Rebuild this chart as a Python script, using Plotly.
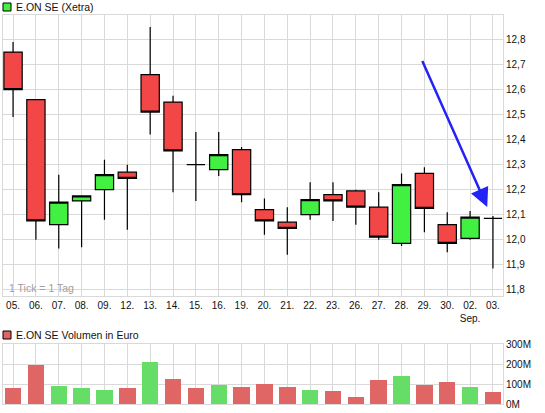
import plotly.graph_objects as go
from plotly.subplots import make_subplots

# trading days (Aug -> Sep)
days = ['05.', '06.', '07.', '08.', '09.', '12.', '13.', '14.', '15.', '16.', '19.',
        '20.', '21.', '22.', '23.', '26.', '27.', '28.', '29.', '30.', '02.', '03.']
day_labels = days[:20] + ['02.<br>Sep.', '03.']

open_ = [12.75, 12.56, 12.06, 12.155, 12.20, 12.27, 12.66, 12.55, 12.30, 12.28, 12.36,
         12.12, 12.07, 12.10, 12.18, 12.195, 12.13, 11.985, 12.265, 12.06, 12.005, 12.085]
high = [12.79, 12.56, 12.26, 12.175, 12.32, 12.30, 12.85, 12.575, 12.43, 12.43, 12.37,
        12.165, 12.13, 12.23, 12.23, 12.20, 12.19, 12.265, 12.29, 12.11, 12.115, 12.095]
low = [12.49, 12.00, 11.965, 11.97, 12.08, 12.04, 12.42, 12.19, 12.155, 12.255, 12.15,
       12.02, 11.94, 12.08, 12.075, 12.06, 12.00, 11.975, 12.03, 11.95, 12.00, 11.885]
close = [12.60, 12.075, 12.15, 12.175, 12.26, 12.245, 12.51, 12.355, 12.30, 12.34, 12.18,
         12.075, 12.045, 12.16, 12.155, 12.13, 12.01, 12.22, 12.125, 11.985, 12.09, 12.085]

# volume in million euro
volume = [80, 195, 90, 80, 70, 80, 210, 125, 80, 97, 85,
          100, 85, 70, 65, 35, 120, 140, 95, 110, 85, 60]
vol_up = [False, False, True, True, True, False, True, False, False, True, False,
          False, False, True, False, False, False, True, False, False, True, False]

RED = '#F34646'
GREEN = '#42F042'
VRED = '#E06666'
VGREEN = '#66DD66'
GRID = '#D9D9D9'
FONT = 'Liberation Sans, Arial, sans-serif'

W, H = 545, 413
ML, MR, MT, MB = 3, 42, 15, 9
PH = H - MT - MB


def py(pixel_y):
    # pixel row -> paper coordinate
    return (H - MB - pixel_y) / PH


def px(pixel_x):
    return (pixel_x - ML) / (W - ML - MR)


fig = make_subplots(rows=2, cols=1)

fig.add_trace(go.Candlestick(
    x=days, open=open_, high=high, low=low, close=close,
    increasing=dict(line=dict(color='black', width=1.2), fillcolor=GREEN),
    decreasing=dict(line=dict(color='black', width=1.2), fillcolor=RED),
    showlegend=False, hoverinfo='skip'), row=1, col=1)

fig.add_trace(go.Bar(
    x=days, y=volume, width=0.72,
    marker=dict(color=[VGREEN if u else VRED for u in vol_up], line=dict(width=0)),
    showlegend=False, hoverinfo='skip'), row=2, col=1)

axis_common = dict(showgrid=True, gridcolor=GRID, gridwidth=1, zeroline=False,
                   showline=True, linecolor=GRID, mirror=True, ticks='',
                   automargin=False)

fig.update_layout(
    width=W, height=H,
    margin=dict(l=ML, r=MR, t=MT, b=MB, pad=0),
    paper_bgcolor='white', plot_bgcolor='white',
    separators=',.',
    boxgap=0.2, boxgroupgap=0,
    font=dict(family=FONT, size=10, color='#111111'),
    xaxis=dict(axis_common, domain=[0, 1], type='category', range=[-0.44, 21.44],
               tickvals=days, ticktext=day_labels, rangeslider=dict(visible=False),
               anchor='y'),
    yaxis=dict(axis_common, domain=[py(296), 1], range=[11.775, 12.898],
               tick0=11.8, dtick=0.1, tickformat='.1f', side='right', anchor='x'),
    xaxis2=dict(axis_common, domain=[0, 1], type='category', range=[-0.44, 21.44],
                showticklabels=False, anchor='y2'),
    yaxis2=dict(axis_common, domain=[0, py(344)], range=[0, 300], dtick=100,
                ticksuffix='M', side='right', anchor='x2'),
    bargap=0,
)

# legend-like headers
fig.add_shape(type='rect', xref='paper', yref='paper',
              x0=px(3), x1=px(11), y0=py(11), y1=py(3),
              fillcolor=GREEN, line=dict(color='black', width=1))
fig.add_annotation(text='E.ON SE (Xetra)', xref='paper', yref='paper',
                   x=px(14), y=py(7), xanchor='left', yanchor='middle',
                   showarrow=False, font=dict(size=10.5, color='#111111'))
fig.add_shape(type='rect', xref='paper', yref='paper',
              x0=px(3), x1=px(11), y0=py(339), y1=py(331),
              fillcolor=VRED, line=dict(color='black', width=1))
fig.add_annotation(text='E.ON SE Volumen in Euro', xref='paper', yref='paper',
                   x=px(14), y=py(335), xanchor='left', yanchor='middle',
                   showarrow=False, font=dict(size=10.5, color='#111111'))

fig.add_annotation(text='1 Tick = 1 Tag', xref='paper', yref='y',
                   x=px(7), y=11.806, xanchor='left', yanchor='middle',
                   showarrow=False, font=dict(size=10.5, color='#A0A0A0'))

# blue arrow
fig.add_annotation(x=20.75, y=12.131, ax=17.88, ay=12.72, xref='x', yref='y',
                   axref='x', ayref='y', text='', showarrow=True,
                   arrowhead=2, arrowsize=1.5, arrowwidth=2.5, arrowcolor='#2323F5',
                   standoff=0)

# the page body has a default 8px margin; drop it so the chart sits at 0,0
fig.write_html('out.html',
               config={'displayModeBar': False},
               post_script="document.body.style.margin='0';document.body.style.overflow='hidden';")
